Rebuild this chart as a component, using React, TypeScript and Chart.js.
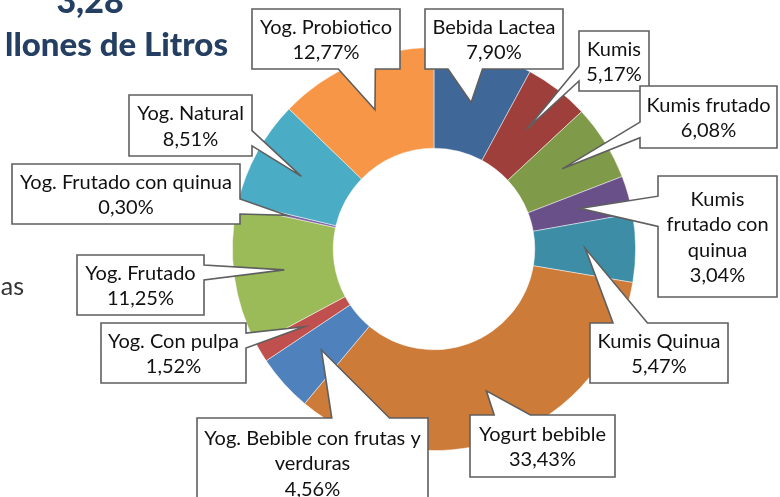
import React, { useEffect, useRef } from "react";
import { Chart, registerables } from "chart.js";

Chart.register(...registerables);

// ---- data ----
const categories = [
  "Bebida Lactea",
  "Kumis",
  "Kumis frutado",
  "Kumis frutado con quinua",
  "Kumis Quinua",
  "Yogurt bebible",
  "Yog. Bebible con frutas y verduras",
  "Yog. Con pulpa",
  "Yog. Frutado",
  "Yog. Frutado con quinua",
  "Yog. Natural",
  "Yog. Probiotico",
];
const shares = [7.9, 5.17, 6.08, 3.04, 5.47, 33.43, 4.56, 1.52, 11.25, 0.3, 8.51, 12.77];
const titleTop = "3,28";
const titleBottom = "llones de Litros";
const sideText = "as";

// ---- styles / layout ----
const sliceColors = [
  "#3F6899",
  "#9E3F3C",
  "#7F9A48",
  "#6A5088",
  "#3C8DA5",
  "#CD7B38",
  "#4F81BD",
  "#C0504D",
  "#9BBB59",
  "#8064A2",
  "#4BACC6",
  "#F79646",
];
// callout boxes [x, y, w, h]
const calloutBoxes: [number, number, number, number][] = [
  [425, 9, 138, 60],
  [579, 31, 70, 60],
  [640, 86, 137, 62],
  [658, 176, 119, 121],
  [590, 323, 138, 60],
  [470, 415, 145, 62],
  [197, 418, 231, 90],
  [101, 323, 145, 60],
  [77, 255, 127, 60],
  [12, 164, 228, 60],
  [129, 95, 123, 61],
  [252, 9, 148, 60],
];
const FONT_FAMILY = "Lato, 'Noto Sans', sans-serif";
const LABEL_FONT = `20px ${FONT_FAMILY}`;
const LINE_H = 25.5;

function fmtPct(v: number) {
  return v.toFixed(2).replace(".", ",") + "%";
}

function wrapText(ctx: CanvasRenderingContext2D, text: string, maxW: number) {
  const words = text.split(" ");
  const lines: string[] = [];
  let cur = "";
  for (const w of words) {
    const test = cur ? cur + " " + w : w;
    if (cur && ctx.measureText(test).width > maxW) {
      lines.push(cur);
      cur = w;
    } else {
      cur = test;
    }
  }
  if (cur) lines.push(cur);
  return lines;
}

function calloutPath(
  ctx: CanvasRenderingContext2D,
  x: number,
  y: number,
  w: number,
  h: number,
  tx: number,
  ty: number
) {
  const hc = x + w / 2;
  const vc = y + h / 2;
  const dxPos = tx - hc;
  const dyPos = ty - vc;
  const dx = (dxPos * h) / w;
  const dy = dyPos;
  ctx.beginPath();
  if (Math.abs(dy) > Math.abs(dx)) {
    const g1 = dxPos > 0 ? 7 : 2;
    const g2 = dxPos > 0 ? 10 : 5;
    const x1 = x + (w * g1) / 12;
    const x2 = x + (w * g2) / 12;
    if (dyPos < 0) {
      ctx.moveTo(x, y);
      ctx.lineTo(x1, y);
      ctx.lineTo(tx, ty);
      ctx.lineTo(x2, y);
      ctx.lineTo(x + w, y);
      ctx.lineTo(x + w, y + h);
      ctx.lineTo(x, y + h);
    } else {
      ctx.moveTo(x, y);
      ctx.lineTo(x + w, y);
      ctx.lineTo(x + w, y + h);
      ctx.lineTo(x2, y + h);
      ctx.lineTo(tx, ty);
      ctx.lineTo(x1, y + h);
      ctx.lineTo(x, y + h);
    }
  } else {
    const g1 = dyPos > 0 ? 7 : 2;
    const g2 = dyPos > 0 ? 10 : 5;
    const y1 = y + (h * g1) / 12;
    const y2 = y + (h * g2) / 12;
    if (dxPos < 0) {
      ctx.moveTo(x, y);
      ctx.lineTo(x + w, y);
      ctx.lineTo(x + w, y + h);
      ctx.lineTo(x, y + h);
      ctx.lineTo(x, y2);
      ctx.lineTo(tx, ty);
      ctx.lineTo(x, y1);
    } else {
      ctx.moveTo(x, y);
      ctx.lineTo(x + w, y);
      ctx.lineTo(x + w, y1);
      ctx.lineTo(tx, ty);
      ctx.lineTo(x + w, y2);
      ctx.lineTo(x + w, y + h);
      ctx.lineTo(x, y + h);
    }
  }
  ctx.closePath();
}

const decorPlugin = {
  id: "decor",
  afterDatasetsDraw(chart: any) {
    const ctx: CanvasRenderingContext2D = chart.ctx;
    ctx.save();
    // titles
    ctx.fillStyle = "#243F62";
    ctx.textBaseline = "alphabetic";
    ctx.font = `900 34px ${FONT_FAMILY}`;
    ctx.textAlign = "center";
    ctx.fillText(titleTop, 90, 13);
    ctx.font = `900 33px ${FONT_FAMILY}`;
    ctx.textAlign = "right";
    ctx.fillText(titleBottom, 228, 56);
    ctx.fillStyle = "#333333";
    ctx.font = `25px ${FONT_FAMILY}`;
    ctx.fillText(sideText, 24, 295);

    // callouts
    const meta = chart.getDatasetMeta(0);
    ctx.font = LABEL_FONT;
    meta.data.forEach((arc: any, i: number) => {
      const tip = arc.tooltipPosition(false);
      const [x, y, w, h] = calloutBoxes[i];
      calloutPath(ctx, x, y, w, h, tip.x, tip.y);
      ctx.fillStyle = "#FFFFFF";
      ctx.fill();
      ctx.strokeStyle = "#5F5F5F";
      ctx.lineWidth = 1.6;
      ctx.lineJoin = "miter";
      ctx.stroke();
      const lines = wrapText(ctx, categories[i], w - 8);
      lines.push(fmtPct(shares[i]));
      ctx.fillStyle = "#111111";
      ctx.textAlign = "center";
      ctx.textBaseline = "middle";
      const cy = y + h / 2;
      const startY = cy - ((lines.length - 1) * LINE_H) / 2;
      lines.forEach((ln, k) => {
        ctx.fillText(ln, x + w / 2, startY + k * LINE_H + 1);
      });
    });
    ctx.restore();
  },
};

export default function App() {
  const canvasRef = useRef<HTMLCanvasElement | null>(null);
  useEffect(() => {
    const canvas = canvasRef.current;
    if (!canvas) return;
    const chart = new Chart(canvas, {
      type: "doughnut",
      data: {
        labels: categories,
        datasets: [
          {
            data: shares,
            backgroundColor: sliceColors,
            borderColor: "rgba(255,255,255,0.6)",
            borderWidth: 0.8,
          },
        ],
      },
      options: {
        responsive: false,
        animation: false,
        cutout: "50%",
        layout: { padding: { left: 232, right: 144, top: 47, bottom: 46 } },
        plugins: {
          legend: { display: false },
          tooltip: { enabled: false },
          title: { display: false },
        },
      },
      plugins: [decorPlugin],
    });
    return () => chart.destroy();
  }, []);
  return (
    <div style={{ position: "absolute", left: 0, top: 0, width: 780, height: 497, background: "#fff" }}>
      <canvas ref={canvasRef} width={780} height={497} style={{ display: "block", width: 780, height: 497 }} />
    </div>
  );
}
